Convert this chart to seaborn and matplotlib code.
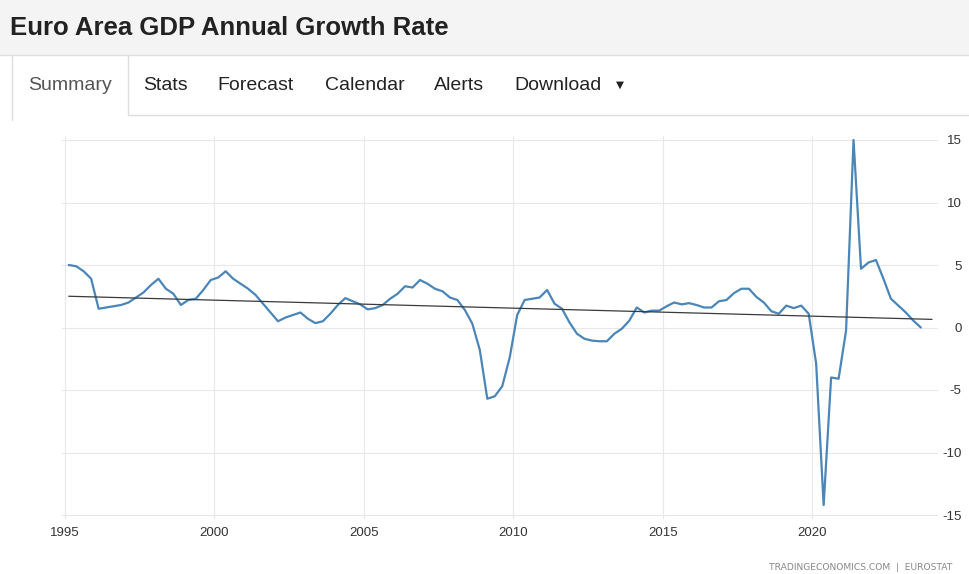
import pandas as pd
import matplotlib.pyplot as plt
import numpy as np
import seaborn as sns
from matplotlib.patches import Rectangle
from matplotlib.lines import Line2D

sns.set_style('white')
plt.rcParams['font.family'] = ['Liberation Sans', 'DejaVu Sans']
plt.rcParams['axes.unicode_minus'] = False

# Quarterly euro area GDP growth (YoY, %), 1995Q1 - 2023Q3
quarters = pd.period_range('1995Q1', '2023Q3', freq='Q')
gdp_growth = [
    5.0, 4.9, 4.5, 3.9, 1.5, 1.6, 1.7, 1.8, 2.0, 2.4, 2.8, 3.4, 3.9, 3.1, 2.7, 1.8, 2.2, 2.3, 3.0, 3.8,
    4.0, 4.5, 3.9, 3.5, 3.1, 2.6, 1.9, 1.2, 0.5, 0.8, 1.0, 1.2, 0.7, 0.35, 0.5, 1.1, 1.8, 2.35, 2.1, 1.85,
    1.45, 1.55, 1.8, 2.3, 2.7, 3.3, 3.2, 3.8, 3.5, 3.1, 2.9, 2.4, 2.2, 1.4, 0.3, -1.8, -5.7, -5.5, -4.7, -2.4,
    1.0, 2.2, 2.3, 2.4, 3.0, 1.9, 1.5, 0.4, -0.5, -0.9, -1.05, -1.1, -1.1, -0.5, -0.1, 0.55, 1.6, 1.2, 1.35, 1.35,
    1.7, 2.0, 1.85, 1.95, 1.8, 1.6, 1.6, 2.1, 2.2, 2.75, 3.1, 3.1, 2.45, 2.0, 1.3, 1.1, 1.75, 1.55, 1.75, 1.1,
    -2.9, -14.2, -4.0, -4.1, -0.25, 15.0, 4.7, 5.2, 5.4, 3.9, 2.3, 1.75, 1.2, 0.55, 0.0,
]
# long-run trend line end points
trend_years = [1995.125, 2024.0]
trend_values = [2.5, 0.65]

year_ticks = [1995, 2000, 2005, 2010, 2015, 2020]
value_ticks = [-15, -10, -5, 0, 5, 10, 15]
tabs = ['Summary', 'Stats', 'Forecast', 'Calendar', 'Alerts', 'Download']
tab_centers = [70, 165, 256, 365, 459, 558]

df = pd.DataFrame({
    'year': quarters.year + (quarters.quarter - 1) / 4 + 0.125,
    'growth': gdp_growth,
})
trend = pd.DataFrame({'year': trend_years, 'growth': trend_values})

W, H = 970, 574
fig = plt.figure(figsize=(W / 100, H / 100), dpi=100)
fig.patch.set_facecolor('white')

def fx(px):
    return px / W

def fy(py):
    return 1 - py / H

# ===== page header and tab bar =====
fig.patches.append(Rectangle((0, fy(55)), 1, 55 / H, transform=fig.transFigure,
                             facecolor='#f4f4f4', edgecolor='none', zorder=0))
for seg in [([0, W], [55, 55]), ([128, W], [115, 115]),
            ([12, 12], [56, 120]), ([128, 128], [56, 115])]:
    fig.add_artist(Line2D([fx(v) for v in seg[0]], [fy(v) for v in seg[1]],
                          transform=fig.transFigure, color='#dddddd', lw=1))

fig.text(fx(10), fy(28), 'Euro Area GDP Annual Growth Rate', fontsize=18.5,
         fontweight='bold', color='#222222', va='center', ha='left')
for name, cx in zip(tabs, tab_centers):
    fig.text(fx(cx), fy(85), name, fontsize=14, va='center', ha='center',
             color='#555555' if name == 'Summary' else '#222222')
fig.text(fx(620), fy(85), '\u25BC', fontsize=7.5, va='center', ha='center', color='#222222',
         family='DejaVu Sans')

# ===== chart =====
ax = fig.add_axes([fx(62), fy(518.75), fx(938 - 62), 382.5 / H])
sns.lineplot(data=df, x='year', y='growth', ax=ax, color='#4a86b8', lw=1.6, zorder=3)
sns.lineplot(data=trend, x='year', y='growth', ax=ax, color='#3a3a3a', lw=0.9, zorder=4)

ax.set_xlim(1994.9, 2024.2)
ax.set_ylim(-15.3, 15.3)
ax.set_xticks(year_ticks)
ax.set_yticks(value_ticks, labels=[str(v) for v in value_ticks], ha='right')
ax.set_xlabel('')
ax.set_ylabel('')
ax.grid(True, color='#e8e8e8', lw=0.8)
for s in ax.spines.values():
    s.set_visible(False)
ax.yaxis.tick_right()
ax.tick_params(axis='y', length=0, pad=17, labelsize=9.5, labelcolor='#333333')
ax.tick_params(axis='x', length=0, pad=6, labelsize=9.5, labelcolor='#333333')

fig.text(fx(952), fy(567), 'TRADINGECONOMICS.COM  |  EUROSTAT', fontsize=6.6,
         color='#888888', ha='right', va='center', family='DejaVu Sans')

plt.savefig('out.png', dpi=100)
plt.close()
